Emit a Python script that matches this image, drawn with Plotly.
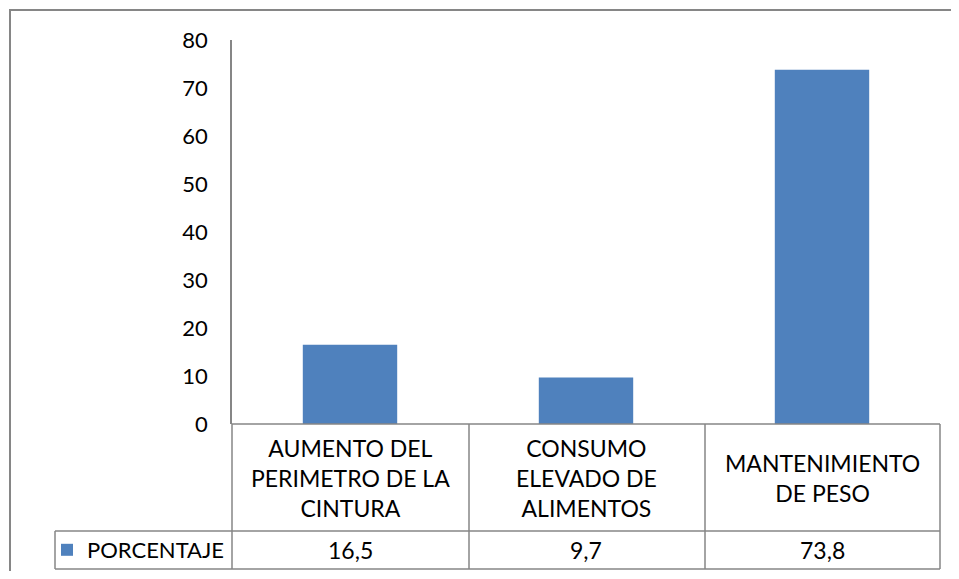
import plotly.graph_objects as go

categorias = ["AUMENTO DEL<br>PERIMETRO DE LA<br>CINTURA",
              "CONSUMO<br>ELEVADO DE<br>ALIMENTOS",
              "MANTENIMIENTO<br>DE PESO"]
porcentaje = [16.5, 9.7, 73.8]
serie = "PORCENTAJE"
y_ticks = [0, 10, 20, 30, 40, 50, 60, 70, 80]

# the page body has an 8px margin, so the figure is shrunk to fit the window
OFF = 8
W, H = 959 - 2 * OFF, 579 - 2 * OFF
# plot area in page pixels
L, R, T, B = 232, 940, 40, 424
GRIS = "#868686"
AZUL = "#4F81BD"
FUENTE = "Lato"


def px(x):
    return (x - L) / (R - L)


def py(y):
    return (B - y) / (B - T)


fig = go.Figure()
fig.add_trace(go.Bar(x=list(range(len(categorias))), y=porcentaje, name=serie,
                     marker=dict(color=AZUL, line=dict(width=0))))

fila1, fila2 = 531, 569  # bottom of category row, bottom of value row
shapes = []
# outer border of chart
shapes.append(dict(type="rect", xref="paper", yref="paper",
                   x0=px(10), x1=px(1000), y0=py(10), y1=py(620),
                   line=dict(color=GRIS, width=2)))
# table horizontal lines
for yy in [B, fila1, fila2]:
    x_start = L if yy == B else 55
    shapes.append(dict(type="line", xref="paper", yref="paper",
                       x0=px(x_start), x1=px(R), y0=py(yy), y1=py(yy),
                       line=dict(color=GRIS, width=1.5)))
# table vertical lines
for xx in [L, 469, 705, R]:
    shapes.append(dict(type="line", xref="paper", yref="paper",
                       x0=px(xx), x1=px(xx), y0=py(B), y1=py(fila2),
                       line=dict(color=GRIS, width=1.5)))
shapes.append(dict(type="line", xref="paper", yref="paper",
                   x0=px(55), x1=px(55), y0=py(fila1), y1=py(fila2),
                   line=dict(color=GRIS, width=1.5)))

anns = []
for i, (c, v) in enumerate(zip(categorias, porcentaje)):
    anns.append(dict(x=i, xref="x", y=py((B + fila1) / 2), yref="paper",
                     text=c, showarrow=False, yanchor="middle",
                     align="center", font=dict(size=23, color="black", family=FUENTE)))
    anns.append(dict(x=i, xref="x", y=py((fila1 + fila2) / 2), yref="paper",
                     text=f"{v:.1f}".replace(".", ","), showarrow=False,
                     yanchor="middle", font=dict(size=23, color="black", family=FUENTE)))

fig.update_layout(
    width=W, height=H,
    margin=dict(l=L - OFF, r=W - (R - OFF), t=T - OFF, b=H - (B - OFF), autoexpand=False),
    paper_bgcolor="white", plot_bgcolor="white",
    font=dict(family=FUENTE, size=22, color="black"),
    bargap=0.6,
    shapes=shapes,
    annotations=anns,
    showlegend=True,
    legend=dict(x=px(47), y=py((fila1 + fila2) / 2), xanchor="left", yanchor="middle",
                bgcolor="rgba(0,0,0,0)", font=dict(size=22, family=FUENTE)),
)
fig.update_xaxes(range=[-0.5, 2.5], showticklabels=False, showgrid=False,
                 zeroline=False, showline=False, ticks="")
fig.update_yaxes(range=[0, 80], tickvals=y_ticks, showgrid=False, zeroline=False,
                 showline=True, linecolor=GRIS, linewidth=1.5, ticks="",
                 ticklabelstandoff=18, tickfont=dict(size=22, family=FUENTE))

fig.write_html("out.html")
